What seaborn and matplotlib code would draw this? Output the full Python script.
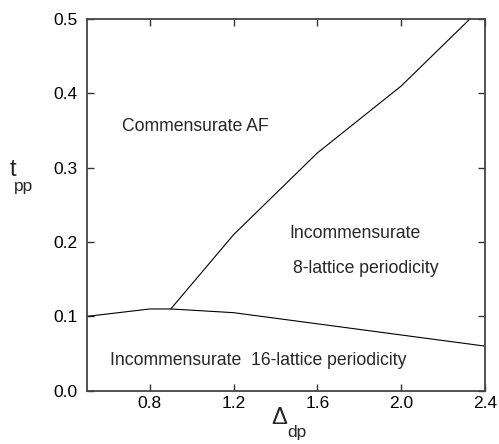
import matplotlib
matplotlib.use("Agg")
import matplotlib.pyplot as plt
import seaborn as sns
import pandas as pd

# phase boundaries
lower_x = [0.5, 0.8, 0.9, 1.2, 2.4]
lower_y = [0.100, 0.110, 0.110, 0.105, 0.060]
upper_x = [0.9, 1.2, 1.6, 2.0, 2.4]
upper_y = [0.110, 0.210, 0.320, 0.410, 0.520]

xticks = [0.8, 1.2, 1.6, 2.0, 2.4]
yticks = [0.0, 0.1, 0.2, 0.3, 0.4, 0.5]

sns.set_theme(style="ticks")
plt.rcParams['font.family'] = ['Liberation Sans', 'DejaVu Sans']

fig = plt.figure(figsize=(4.99, 4.44), dpi=100)
ax = fig.add_axes([0.1743, 0.12, 0.7977, 0.837])

df_low = pd.DataFrame({"x": lower_x, "y": lower_y})
df_up = pd.DataFrame({"x": upper_x, "y": upper_y})
sns.lineplot(data=df_low, x="x", y="y", ax=ax, color="black", lw=0.8, sort=False)
sns.lineplot(data=df_up, x="x", y="y", ax=ax, color="black", lw=0.8, sort=False)

ax.set_xlim(0.5, 2.4)
ax.set_ylim(0.0, 0.5)
ax.set_xticks(xticks)
ax.set_xticklabels([f"{v:.1f}" for v in xticks])
ax.set_yticks(yticks)
ax.set_yticklabels([f"{v:.1f}" for v in yticks])
ax.tick_params(direction="in", length=5, width=1, top=True, right=True,
               labelsize=12.5, colors="#333333", labelcolor="black")
ax.tick_params(axis="x", pad=4)
ax.tick_params(axis="y", pad=7)
for s in ax.spines.values():
    s.set_linewidth(1.3)
    s.set_color("#444444")
ax.set_xlabel("")
ax.set_ylabel("")

# axis labels with subscripts (pixel positions converted to figure fraction)
W, H = 499, 444
fig.text(10 / W, 1 - 170 / H, "t", fontsize=17, ha="left", va="center")
fig.text(14 / W, 1 - 186 / H, "pp", fontsize=12.5, ha="left", va="center")
fig.text(271 / W, 1 - 418 / H, "\u0394", fontsize=17, ha="left", va="center")
fig.text(287 / W, 1 - 432 / H, "dp", fontsize=12.5, ha="left", va="center")

fs = 12.7
ax.text(0.667, 0.356, "Commensurate AF", fontsize=fs, ha="left", va="center")
ax.text(1.468, 0.211, "Incommensurate", fontsize=fs, ha="left", va="center")
ax.text(1.482, 0.165, "8-lattice periodicity", fontsize=fs, ha="left", va="center")
ax.text(0.61, 0.041, "Incommensurate  16-lattice periodicity", fontsize=fs, ha="left", va="center")

fig.savefig("out.png", dpi=100)
